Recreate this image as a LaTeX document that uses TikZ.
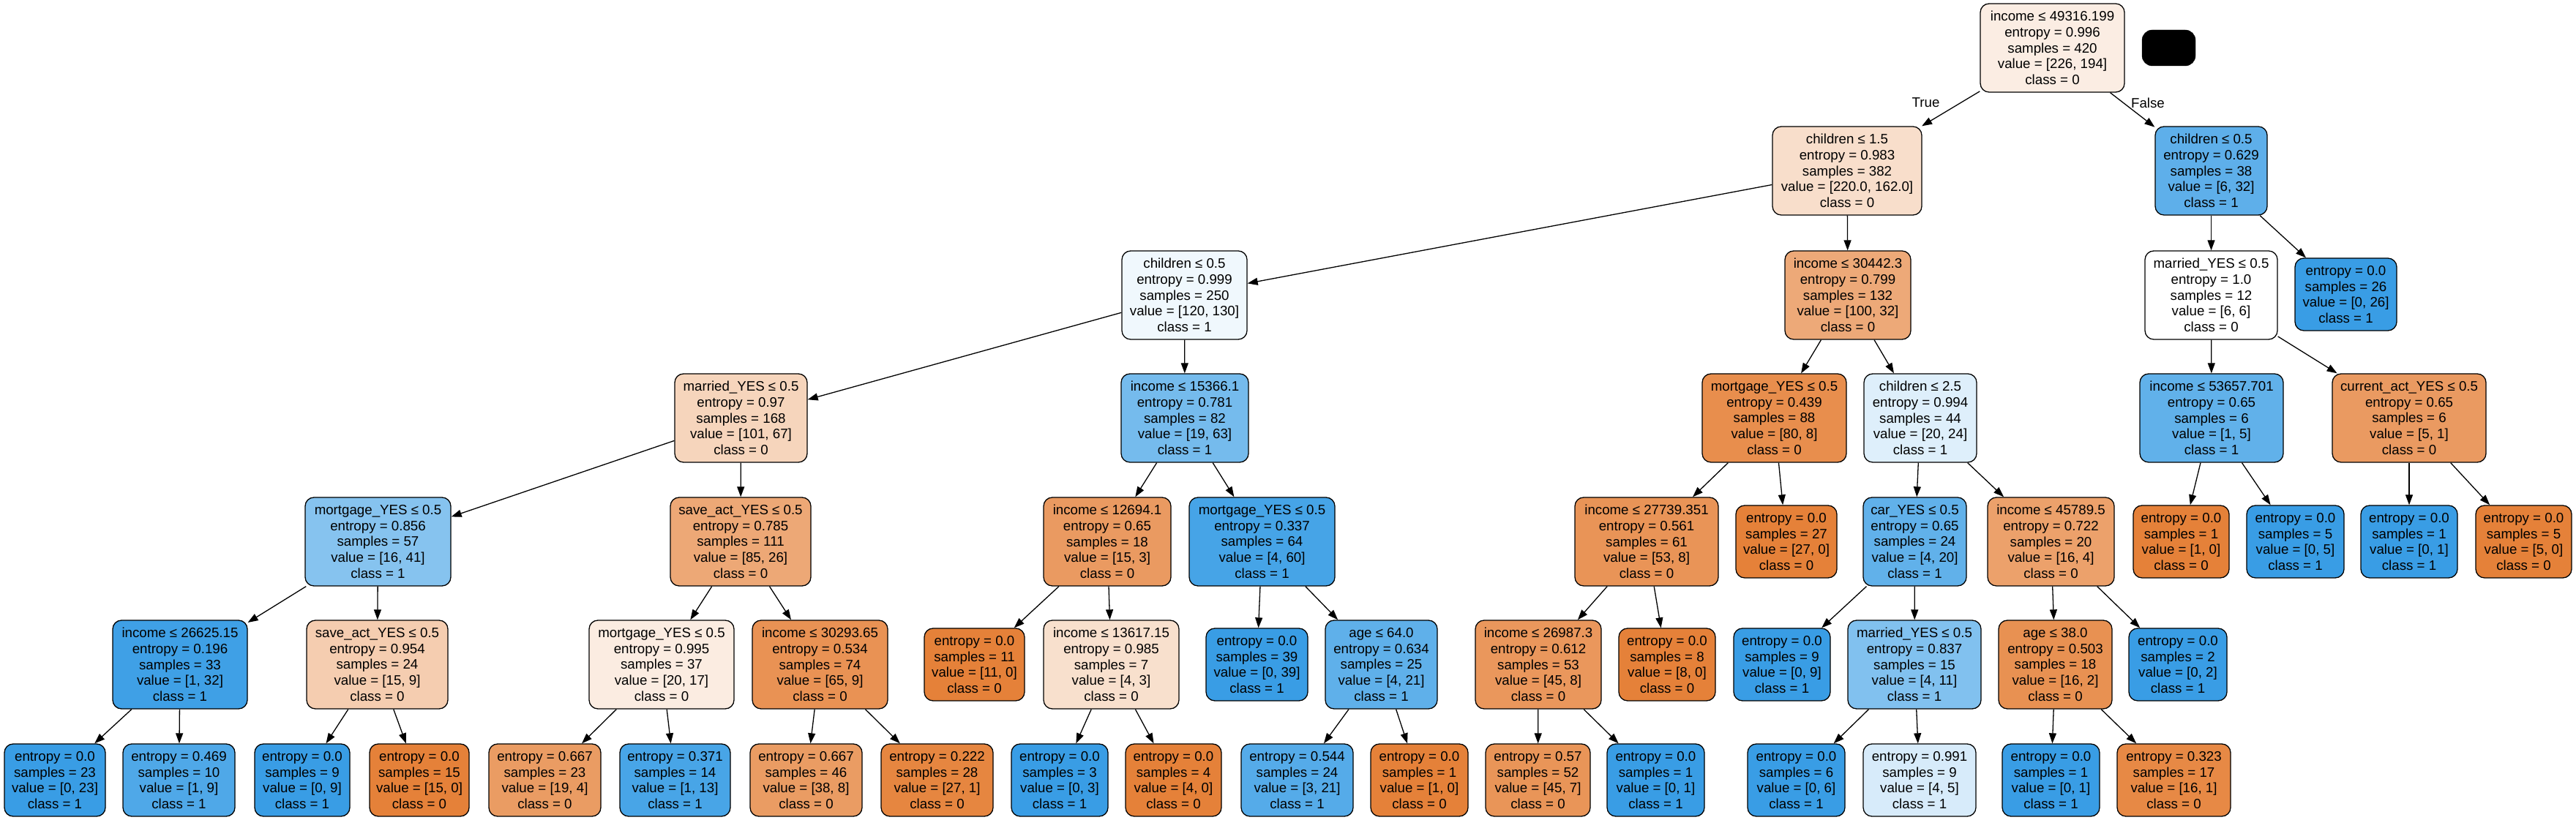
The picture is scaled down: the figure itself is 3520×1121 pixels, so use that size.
\documentclass[tikz,border=0pt]{standalone}
\usepackage{fontspec}
\setmainfont{Liberation Sans}
\usetikzlibrary{arrows.meta}
\definecolor{OR}{RGB}{229,129,57}
\definecolor{BL}{RGB}{57,157,229}
\definecolor{c0}{RGB}{251,237,227}
\definecolor{c1}{RGB}{248,222,203}
\definecolor{c2}{RGB}{94,175,234}
\definecolor{c3}{RGB}{240,248,253}
\definecolor{c4}{RGB}{237,169,120}
\definecolor{c7}{RGB}{246,213,188}
\definecolor{c8}{RGB}{117,187,237}
\definecolor{c9}{RGB}{232,142,77}
\definecolor{c10}{RGB}{222,239,251}
\definecolor{c11}{RGB}{97,177,234}
\definecolor{c12}{RGB}{234,154,97}
\definecolor{c13}{RGB}{134,195,239}
\definecolor{c14}{RGB}{237,168,118}
\definecolor{c16}{RGB}{70,164,231}
\definecolor{c17}{RGB}{233,148,87}
\definecolor{c20}{RGB}{236,161,107}
\definecolor{c25}{RGB}{63,160,230}
\definecolor{c26}{RGB}{245,205,176}
\definecolor{c27}{RGB}{251,236,225}
\definecolor{c28}{RGB}{233,146,84}
\definecolor{c30}{RGB}{248,224,205}
\definecolor{c32}{RGB}{95,176,234}
\definecolor{c33}{RGB}{234,151,92}
\definecolor{c36}{RGB}{129,193,239}
\definecolor{c37}{RGB}{232,145,82}
\definecolor{d2}{RGB}{79,168,232}
\definecolor{d5}{RGB}{234,156,99}
\definecolor{d6}{RGB}{72,165,231}
\definecolor{d8}{RGB}{230,134,64}
\definecolor{d11}{RGB}{85,171,233}
\definecolor{d13}{RGB}{233,149,88}
\definecolor{d16}{RGB}{215,235,250}
\definecolor{d18}{RGB}{231,137,69}
\newcommand\tn[7]{\node[box,fill=#2,minimum width={#4-#3},minimum height={#6-#5}] (#1) at ({(#3+#4)/2},{1121-(#5+#6)/2}) {#7};}
\begin{document}
\begin{tikzpicture}[x=1pt,y=1pt,
  box/.style={draw=black,line width=1.3pt,rounded corners=12pt,inner sep=0pt,align=center,
    font=\fontsize{18.7}{21.7}\selectfont},
  edge/.style={line width=1.3pt,-{Triangle[length=14pt,width=10pt]}},
  lbl/.style={font=\fontsize{18.7}{21.7}\selectfont,inner sep=0pt}]
\useasboundingbox (0,0) rectangle (3520,1121);
\fill[white] (0,0) rectangle (3520,1121);
% level 0
\tn{root}{c0}{2706}{2903}{5}{126}{income ≤ 49316.199\\entropy = 0.996\\samples = 420\\value = [226, 194]\\class = 0}
\node[fill=black,draw=black,rounded corners=14pt,minimum width=73pt,minimum height=49pt,inner sep=0pt] (blk) at (2963.5,{1121-65.5}) {};
% level 1
\tn{n1}{c1}{2422}{2626}{173}{294}{children ≤ 1.5\\entropy = 0.983\\samples = 382\\value = [220.0, 162.0]\\class = 0}
\tn{n2}{c2}{2945}{3098}{173}{294}{children ≤ 0.5\\entropy = 0.629\\samples = 38\\value = [6, 32]\\class = 1}
% level 2
\tn{n3}{c3}{1533}{1704}{343}{464}{children ≤ 0.5\\entropy = 0.999\\samples = 250\\value = [120, 130]\\class = 1}
\tn{n4}{c4}{2439}{2611}{343}{464}{income ≤ 30442.3\\entropy = 0.799\\samples = 132\\value = [100, 32]\\class = 0}
\tn{n5}{white}{2931}{3112}{343}{464}{married\_YES ≤ 0.5\\entropy = 1.0\\samples = 12\\value = [6, 6]\\class = 0}
\tn{n6}{BL}{3136}{3275}{353}{452}{entropy = 0.0\\samples = 26\\value = [0, 26]\\class = 1}
% level 3
\tn{n7}{c7}{922}{1103}{511}{632}{married\_YES ≤ 0.5\\entropy = 0.97\\samples = 168\\value = [101, 67]\\class = 0}
\tn{n8}{c8}{1532}{1706}{511}{632}{income ≤ 15366.1\\entropy = 0.781\\samples = 82\\value = [19, 63]\\class = 1}
\tn{n9}{c9}{2326}{2523}{511}{632}{mortgage\_YES ≤ 0.5\\entropy = 0.439\\samples = 88\\value = [80, 8]\\class = 0}
\tn{n10}{c10}{2547}{2701}{511}{632}{children ≤ 2.5\\entropy = 0.994\\samples = 44\\value = [20, 24]\\class = 1}
\tn{n11}{c11}{2924}{3120}{511}{632}{income ≤ 53657.701\\entropy = 0.65\\samples = 6\\value = [1, 5]\\class = 1}
\tn{n12}{c12}{3187}{3397}{511}{632}{current\_act\_YES ≤ 0.5\\entropy = 0.65\\samples = 6\\value = [5, 1]\\class = 0}
% level 4
\tn{n13}{c13}{417}{616}{680}{801}{mortgage\_YES ≤ 0.5\\entropy = 0.856\\samples = 57\\value = [16, 41]\\class = 1}
\tn{n14}{c14}{916}{1108}{680}{801}{save\_act\_YES ≤ 0.5\\entropy = 0.785\\samples = 111\\value = [85, 26]\\class = 0}
\tn{n15}{c12}{1426}{1600}{680}{801}{income ≤ 12694.1\\entropy = 0.65\\samples = 18\\value = [15, 3]\\class = 0}
\tn{n16}{c16}{1625}{1824}{680}{801}{mortgage\_YES ≤ 0.5\\entropy = 0.337\\samples = 64\\value = [4, 60]\\class = 1}
\tn{n17}{c17}{2152}{2348}{680}{801}{income ≤ 27739.351\\entropy = 0.561\\samples = 61\\value = [53, 8]\\class = 0}
\tn{n18}{OR}{2372}{2510}{691}{790}{entropy = 0.0\\samples = 27\\value = [27, 0]\\class = 0}
\tn{n19}{c11}{2546}{2687}{680}{801}{car\_YES ≤ 0.5\\entropy = 0.65\\samples = 24\\value = [4, 20]\\class = 1}
\tn{n20}{c20}{2716}{2889}{680}{801}{income ≤ 45789.5\\entropy = 0.722\\samples = 20\\value = [16, 4]\\class = 0}
\tn{n21}{OR}{2915}{3046}{691}{790}{entropy = 0.0\\samples = 1\\value = [1, 0]\\class = 0}
\tn{n22}{BL}{3070}{3203}{691}{790}{entropy = 0.0\\samples = 5\\value = [0, 5]\\class = 1}
\tn{n23}{BL}{3226}{3358}{691}{790}{entropy = 0.0\\samples = 1\\value = [0, 1]\\class = 1}
\tn{n24}{OR}{3383}{3514}{691}{790}{entropy = 0.0\\samples = 5\\value = [5, 0]\\class = 0}
% level 5
\tn{n25}{c25}{154}{338}{848}{969}{income ≤ 26625.15\\entropy = 0.196\\samples = 33\\value = [1, 32]\\class = 1}
\tn{n26}{c26}{419}{612}{848}{969}{save\_act\_YES ≤ 0.5\\entropy = 0.954\\samples = 24\\value = [15, 9]\\class = 0}
\tn{n27}{c27}{805}{1003}{848}{969}{mortgage\_YES ≤ 0.5\\entropy = 0.995\\samples = 37\\value = [20, 17]\\class = 0}
\tn{n28}{c28}{1028}{1213}{848}{969}{income ≤ 30293.65\\entropy = 0.534\\samples = 74\\value = [65, 9]\\class = 0}
\tn{n29}{OR}{1263}{1400}{859}{958}{entropy = 0.0\\samples = 11\\value = [11, 0]\\class = 0}
\tn{n30}{c30}{1426}{1611}{848}{969}{income ≤ 13617.15\\entropy = 0.985\\samples = 7\\value = [4, 3]\\class = 0}
\tn{n31}{BL}{1648}{1787}{859}{958}{entropy = 0.0\\samples = 39\\value = [0, 39]\\class = 1}
\tn{n32}{c32}{1811}{1964}{848}{969}{age ≤ 64.0\\entropy = 0.634\\samples = 25\\value = [4, 21]\\class = 1}
\tn{n33}{c33}{2016}{2188}{848}{969}{income ≤ 26987.3\\entropy = 0.612\\samples = 53\\value = [45, 8]\\class = 0}
\tn{n34}{OR}{2212}{2344}{859}{958}{entropy = 0.0\\samples = 8\\value = [8, 0]\\class = 0}
\tn{n35}{BL}{2369}{2501}{859}{958}{entropy = 0.0\\samples = 9\\value = [0, 9]\\class = 1}
\tn{n36}{c36}{2525}{2707}{848}{969}{married\_YES ≤ 0.5\\entropy = 0.837\\samples = 15\\value = [4, 11]\\class = 1}
\tn{n37}{c37}{2731}{2886}{848}{969}{age ≤ 38.0\\entropy = 0.503\\samples = 18\\value = [16, 2]\\class = 0}
\tn{n38}{BL}{2909}{3043}{859}{958}{entropy = 0.0\\samples = 2\\value = [0, 2]\\class = 1}
% level 6
\tn{l1}{BL}{6}{144}{1017}{1116}{entropy = 0.0\\samples = 23\\value = [0, 23]\\class = 1}
\tn{l2}{d2}{168}{321}{1017}{1116}{entropy = 0.469\\samples = 10\\value = [1, 9]\\class = 1}
\tn{l3}{BL}{348}{478}{1017}{1116}{entropy = 0.0\\samples = 9\\value = [0, 9]\\class = 1}
\tn{l4}{OR}{505}{641}{1017}{1116}{entropy = 0.0\\samples = 15\\value = [15, 0]\\class = 0}
\tn{l5}{d5}{668}{821}{1017}{1116}{entropy = 0.667\\samples = 23\\value = [19, 4]\\class = 0}
\tn{l6}{d6}{847}{998}{1017}{1116}{entropy = 0.371\\samples = 14\\value = [1, 13]\\class = 1}
\tn{l7}{d5}{1025}{1178}{1017}{1116}{entropy = 0.667\\samples = 46\\value = [38, 8]\\class = 0}
\tn{l8}{d8}{1204}{1357}{1017}{1116}{entropy = 0.222\\samples = 28\\value = [27, 1]\\class = 0}
\tn{l9}{BL}{1382}{1514}{1017}{1116}{entropy = 0.0\\samples = 3\\value = [0, 3]\\class = 1}
\tn{l10}{OR}{1538}{1669}{1017}{1116}{entropy = 0.0\\samples = 4\\value = [4, 0]\\class = 0}
\tn{l11}{d11}{1696}{1849}{1017}{1116}{entropy = 0.544\\samples = 24\\value = [3, 21]\\class = 1}
\tn{l12}{OR}{1873}{2006}{1017}{1116}{entropy = 0.0\\samples = 1\\value = [1, 0]\\class = 0}
\tn{l13}{d13}{2030}{2173}{1017}{1116}{entropy = 0.57\\samples = 52\\value = [45, 7]\\class = 0}
\tn{l14}{BL}{2196}{2329}{1017}{1116}{entropy = 0.0\\samples = 1\\value = [0, 1]\\class = 1}
\tn{l15}{BL}{2388}{2521}{1017}{1116}{entropy = 0.0\\samples = 6\\value = [0, 6]\\class = 1}
\tn{l16}{d16}{2546}{2700}{1017}{1116}{entropy = 0.991\\samples = 9\\value = [4, 5]\\class = 1}
\tn{l17}{BL}{2736}{2869}{1017}{1116}{entropy = 0.0\\samples = 1\\value = [0, 1]\\class = 1}
\tn{l18}{d18}{2893}{3048}{1017}{1116}{entropy = 0.323\\samples = 17\\value = [16, 1]\\class = 0}
% edges
\foreach \p/\c in {root/n1,root/n2,n1/n3,n1/n4,n2/n5,n2/n6,n3/n7,n3/n8,n4/n9,n4/n10,n5/n11,n5/n12,
  n7/n13,n7/n14,n8/n15,n8/n16,n9/n17,n9/n18,n10/n19,n10/n20,n11/n21,n11/n22,n12/n23,n12/n24,
  n13/n25,n13/n26,n14/n27,n14/n28,n15/n29,n15/n30,n16/n31,n16/n32,n17/n33,n17/n34,n19/n35,n19/n36,n20/n37,n20/n38,
  n25/l1,n25/l2,n26/l3,n26/l4,n27/l5,n27/l6,n28/l7,n28/l8,n30/l9,n30/l10,n32/l11,n32/l12,n33/l13,n33/l14,
  n36/l15,n36/l16,n37/l17,n37/l18}
  \draw[edge] (\p) -- (\c);
\node[lbl] (tlab) at (2631.5,{1121-140.5}) {True};
\node[lbl] (flab) at (2935,{1121-140.5}) {False};
\end{tikzpicture}
\end{document}
